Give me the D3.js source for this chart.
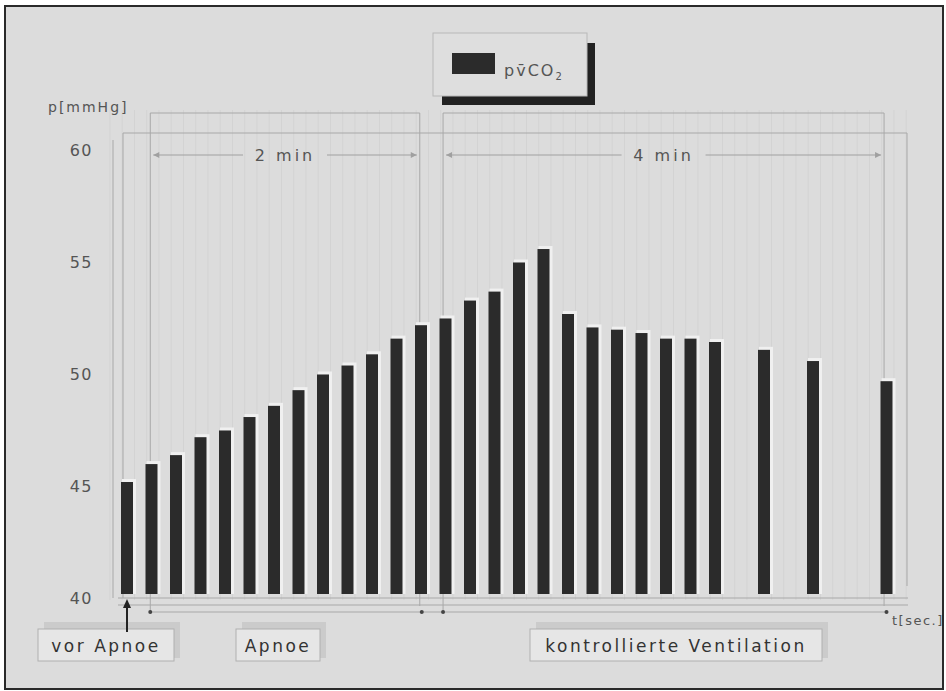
<!DOCTYPE html>
<html>
<head>
<meta charset="utf-8">
<script src="https://cdn.jsdelivr.net/npm/d3@7"></script>
<style>
  body { margin: 0; background: #fff; }
  svg { display: block; font-family: "DejaVu Sans", sans-serif; }
</style>
</head>
<body>
<svg id="chart" width="946" height="691"></svg>
<script>
// data: measurement slot (position on the time axis) and pvCO2 in mmHg
const slots = [0, 1, 2, 3, 4, 5, 6, 7, 8, 9, 10, 11, 12, 13, 14, 15, 16, 17, 18, 19, 20, 21, 22, 23, 24, 26, 28, 31];
const pvco2 = [45.0, 45.8, 46.2, 47.0, 47.3, 47.9, 48.4, 49.1, 49.8, 50.2, 50.7, 51.4, 52.0,
               52.3, 53.1, 53.5, 54.8, 55.4, 52.5, 51.9, 51.8, 51.65, 51.4, 51.4, 51.25, 50.9, 50.4, 49.5];
const yTicks = [40, 45, 50, 55, 60];
// phase boundaries in slot units
const apnoePhase = [0.95, 11.95];
const ventPhase = [12.9, 30.9];
const phaseLabels = ["2 min", "4 min"];
const boxLabels = ["vor Apnoe", "Apnoe", "kontrollierte Ventilation"];

const svg = d3.select("#chart");

const x = d3.scaleLinear().domain([0, 31]).range([127, 886.5]);
const y = d3.scaleLinear().domain([40, 60]).range([594, 146]);

// page frame
svg.append("rect").attr("x", 5).attr("y", 6).attr("width", 938).attr("height", 683)
    .attr("fill", "#dcdcdc").attr("stroke", "#2a2a2a").attr("stroke-width", 2);

// faint vertical texture
const stripes = d3.range(110, 912, 12.25);
svg.append("g").selectAll("line").data(stripes).join("line")
    .attr("x1", d => d).attr("x2", d => d).attr("y1", 110).attr("y2", 600)
    .attr("stroke", "#d3d3d3").attr("stroke-width", 1);

const frame = svg.append("g").attr("fill", "none").attr("stroke", "#a8a8a8").attr("stroke-width", 1);

// back panel
frame.append("path").attr("d", `M113,598V140 M123,598V133H907V586`);

// phase frames
[apnoePhase, ventPhase].forEach(p => {
    const x0 = x(p[0]), x1 = x(p[1]);
    frame.append("path").attr("d", `M${x0},612V113H${x1}V606`);
});

// floor lines
frame.append("path").attr("d", `M118,598H908 M118,605H908 M${x(apnoePhase[0])},612H${x(31)}`);

// dimension lines with arrows
const dim = svg.append("g");
[apnoePhase, ventPhase].forEach((p, i) => {
    const x0 = x(p[0]) + 3, x1 = x(p[1]) - 3, cx = (x0 + x1) / 2, yy = 155;
    dim.append("path")
        .attr("d", `M${x0},${yy}H${cx - 42} M${cx + 42},${yy}H${x1}`)
        .attr("stroke", "#a0a0a0").attr("fill", "none");
    dim.append("path").attr("d", `M${x0},${yy}l6,-3v6z M${x1},${yy}l-6,-3v6z`).attr("fill", "#a0a0a0");
    dim.append("text").attr("x", cx).attr("y", yy).attr("dy", "0.35em")
        .attr("text-anchor", "middle").attr("font-size", 16).attr("letter-spacing", 3)
        .attr("fill", "#555").text(phaseLabels[i]);
});

// dots on time axis
svg.append("g").selectAll("circle")
    .data([x(apnoePhase[0]), x(apnoePhase[1]) + 2, x(ventPhase[0]), x(31)])
    .join("circle").attr("cx", d => d).attr("cy", 612).attr("r", 2).attr("fill", "#444");

// bars
const bars = svg.append("g");
const bw = 12;
bars.selectAll("rect.halo").data(pvco2).join("rect").attr("class", "halo")
    .attr("x", (d, i) => x(slots[i]) - bw / 2 + 1)
    .attr("y", d => y(d) - 3)
    .attr("width", bw + 2)
    .attr("height", d => y(40) - y(d) + 3)
    .attr("fill", "#f0f0f0");
bars.selectAll("rect.bar").data(pvco2).join("rect").attr("class", "bar")
    .attr("x", (d, i) => x(slots[i]) - bw / 2)
    .attr("y", d => y(d))
    .attr("width", bw)
    .attr("height", d => y(40) - y(d))
    .attr("fill", "#2b2b2b");

// y axis
svg.append("g").attr("transform", "translate(97,4)")
    .call(d3.axisLeft(y).tickValues(yTicks).tickSize(0).tickPadding(4))
    .call(g => g.select(".domain").remove())
    .call(g => g.selectAll("text").attr("font-size", 16).attr("font-family", "DejaVu Sans")
        .attr("letter-spacing", 1.5).attr("fill", "#555"));

svg.append("text").attr("x", 48).attr("y", 112).attr("font-size", 14).attr("letter-spacing", 2)
    .attr("fill", "#555").text("p[mmHg]");

svg.append("text").attr("x", 892).attr("y", 625).attr("font-size", 13).attr("letter-spacing", 1.5)
    .attr("fill", "#555").text("t[sec.]");

// legend
const lg = svg.append("g");
lg.append("rect").attr("x", 442).attr("y", 43).attr("width", 153).attr("height", 62).attr("fill", "#222");
lg.append("rect").attr("x", 433).attr("y", 33).attr("width", 154).attr("height", 63)
    .attr("fill", "#dedede").attr("stroke", "#b8b8b8");
lg.append("rect").attr("x", 452).attr("y", 53).attr("width", 43).attr("height", 21).attr("fill", "#2b2b2b");
const lt = lg.append("text").attr("x", 504).attr("y", 76).attr("font-size", 16)
    .attr("fill", "#555").attr("letter-spacing", 2);
lt.append("tspan").text("pv\u0304CO");
lt.append("tspan").attr("font-size", 10).attr("dy", 4).text("2");

// phase label boxes
const boxes = [
    { x0: 38, x1: 174 },
    { x0: 236, x1: 320 },
    { x0: 530, x1: 822 }
];
const bl = svg.append("g");
boxes.forEach((b, i) => {
    bl.append("rect").attr("x", b.x0 + 6).attr("y", 622).attr("width", b.x1 - b.x0)
        .attr("height", 36).attr("fill", "#cbcbcb");
    bl.append("rect").attr("x", b.x0).attr("y", 629).attr("width", b.x1 - b.x0)
        .attr("height", 32).attr("fill", "#e6e6e6").attr("stroke", "#b0b0b0");
    bl.append("text").attr("x", (b.x0 + b.x1) / 2).attr("y", 646).attr("dy", "0.35em")
        .attr("text-anchor", "middle").attr("font-size", 17).attr("letter-spacing", 2.5)
        .attr("fill", "#333").text(boxLabels[i]);
});

// arrow at pre-apnoea bar
svg.append("path").attr("d", `M${x(0)},632V604`).attr("stroke", "#222").attr("stroke-width", 2);
svg.append("path").attr("d", `M${x(0)},599l-4,9h8z`).attr("fill", "#222");
</script>
</body>
</html>
